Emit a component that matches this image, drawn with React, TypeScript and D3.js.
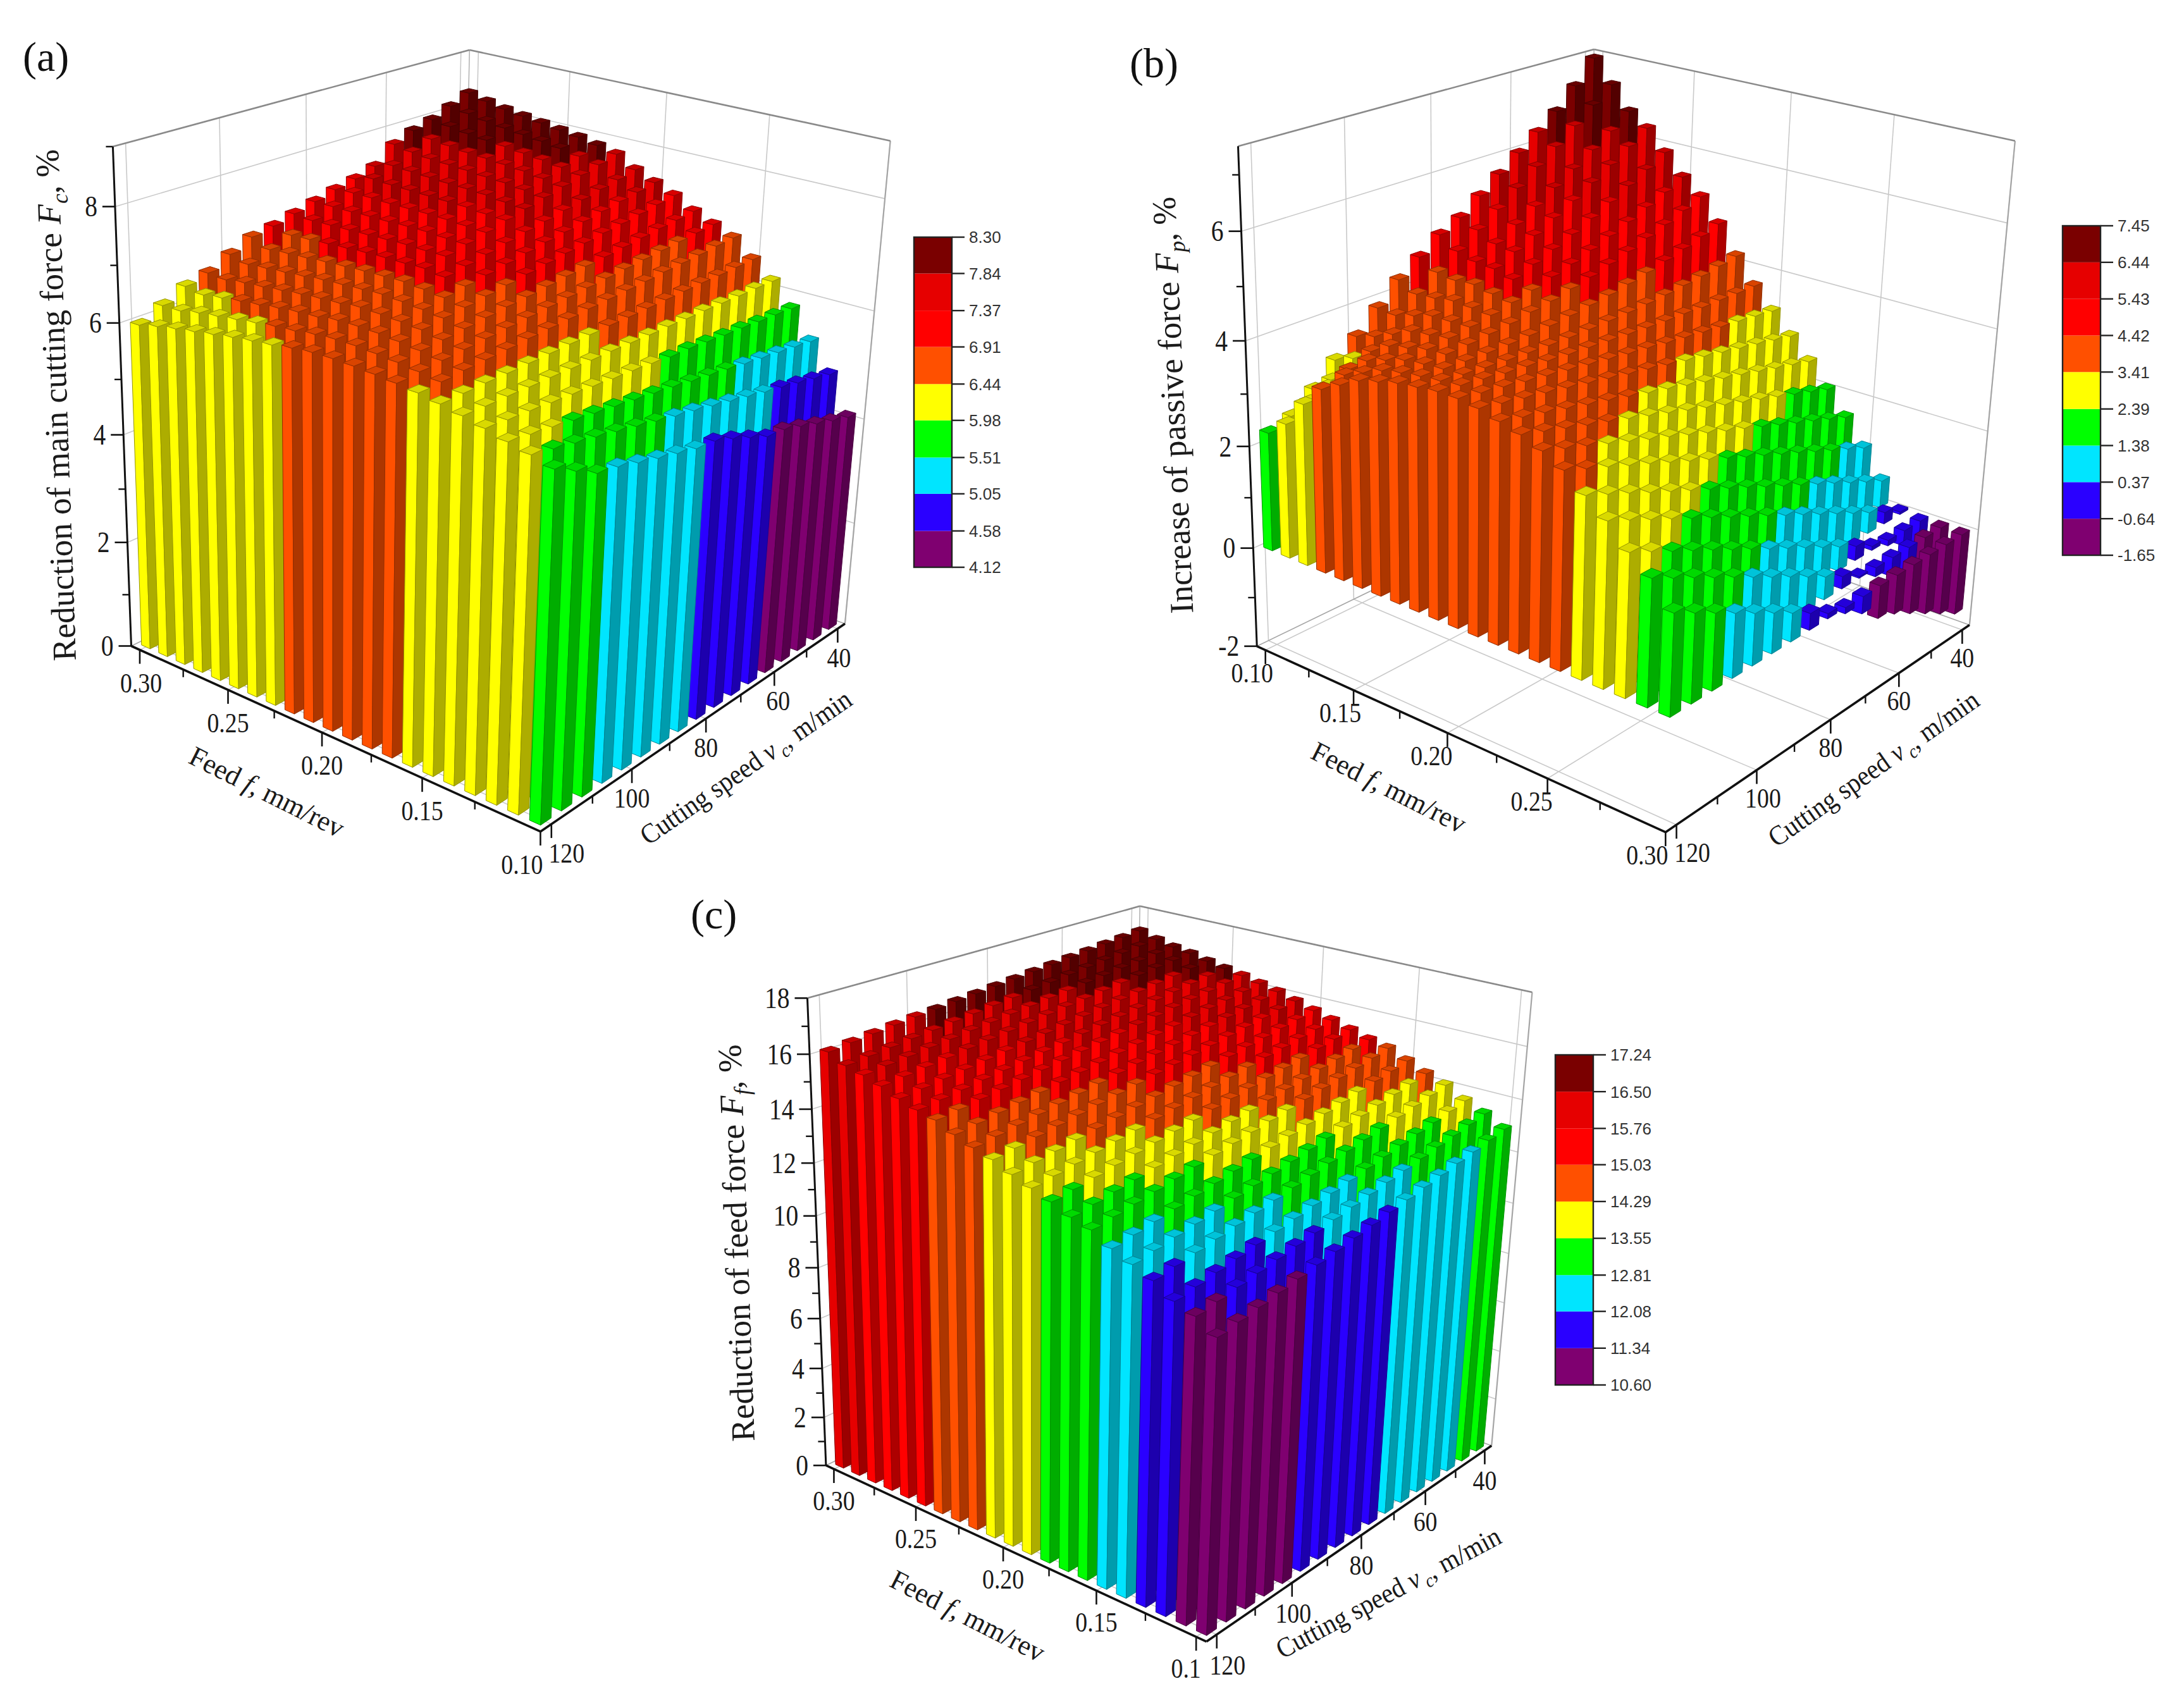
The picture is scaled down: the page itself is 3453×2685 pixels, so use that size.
import React, { useEffect, useRef } from 'react';
import * as d3 from 'd3';

// feed f (mm/rev) and cutting speed v (m/min) of the bars
const feedValues = [0.1, 0.11, 0.12, 0.13, 0.14, 0.15, 0.16, 0.17, 0.18, 0.19, 0.2, 0.21, 0.22, 0.23, 0.24, 0.25, 0.26, 0.27, 0.28, 0.29, 0.3];
const speedValues = [120, 115, 110, 105, 100, 95, 90, 85, 80, 75, 70, 65, 60, 55, 50, 45, 40];

const feedTicks = [0.1, 0.15, 0.2, 0.25, 0.3];
const feedMinor = [0.125, 0.175, 0.225, 0.275];
const speedTicks = [120, 100, 80, 60, 40];
const speedMinor = [110, 90, 70, 50];

const bandColors = ['#7f0070', '#2a00ff', '#00e5ff', '#00ff00', '#ffff00', '#ff5000', '#ff0000', '#e60000', '#7a0000'];

const levelsFc = [4.12, 4.58, 5.05, 5.51, 5.98, 6.44, 6.91, 7.37, 7.84, 8.3];
const levelsFp = [-1.65, -0.64, 0.37, 1.38, 2.39, 3.41, 4.42, 5.43, 6.44, 7.45];
const levelsFf = [10.6, 11.34, 12.08, 12.81, 13.55, 14.29, 15.03, 15.76, 16.5, 17.24];

// one line per feed (0.10 .. 0.30), values per speed (120 .. 40)
const valuesFc = [
  [5.95, 5.74, 5.53, 5.46, 5.35, 5.25, 5.16, 5.07, 5.03, 4.9, 4.75, 4.6, 4.56, 4.45, 4.33, 4.22, 4.12],
  [6.05, 5.97, 5.89, 5.82, 5.74, 5.66, 5.58, 5.5, 5.43, 5.35, 5.27, 5.19, 5.11, 5.04, 4.96, 4.88, 4.8],
  [6.13, 6.08, 6.03, 5.97, 5.92, 5.87, 5.82, 5.77, 5.72, 5.66, 5.61, 5.56, 5.5, 5.45, 5.4, 5.35, 5.3],
  [6.22, 6.19, 6.17, 6.14, 6.12, 6.09, 6.06, 6.04, 6.01, 5.97, 5.96, 5.93, 5.9, 5.88, 5.85, 5.83, 5.8],
  [6.3, 6.29, 6.29, 6.28, 6.28, 6.27, 6.26, 6.26, 6.25, 6.24, 6.24, 6.23, 6.23, 6.22, 6.21, 6.21, 6.2],
  [6.37, 6.38, 6.39, 6.39, 6.4, 6.41, 6.42, 6.43, 6.44, 6.44, 6.45, 6.46, 6.47, 6.48, 6.48, 6.49, 6.5],
  [6.43, 6.45, 6.48, 6.5, 6.52, 6.55, 6.57, 6.59, 6.62, 6.64, 6.66, 6.68, 6.71, 6.73, 6.75, 6.78, 6.8],
  [6.47, 6.5, 6.53, 6.56, 6.59, 6.62, 6.65, 6.68, 6.71, 6.74, 6.77, 6.8, 6.83, 6.86, 6.89, 6.92, 6.95],
  [6.5, 6.54, 6.58, 6.61, 6.65, 6.69, 6.73, 6.76, 6.8, 6.84, 6.88, 6.91, 6.95, 6.99, 7.03, 7.06, 7.1],
  [6.52, 6.57, 6.62, 6.67, 6.72, 6.76, 6.81, 6.86, 6.91, 6.96, 7.01, 7.06, 7.11, 7.15, 7.2, 7.25, 7.3],
  [6.53, 6.59, 6.65, 6.7, 6.76, 6.82, 6.88, 6.93, 6.99, 7.05, 7.11, 7.16, 7.22, 7.28, 7.34, 7.39, 7.45],
  [6.52, 6.59, 6.66, 6.72, 6.79, 6.86, 6.93, 6.99, 7.06, 7.13, 7.2, 7.26, 7.33, 7.4, 7.47, 7.53, 7.6],
  [6.48, 6.56, 6.65, 6.73, 6.81, 6.89, 6.98, 7.06, 7.14, 7.22, 7.31, 7.39, 7.47, 7.55, 7.64, 7.72, 7.8],
  [6.42, 6.51, 6.6, 6.69, 6.79, 6.88, 6.97, 7.06, 7.15, 7.24, 7.33, 7.42, 7.52, 7.61, 7.7, 7.79, 7.88],
  [6.38, 6.48, 6.58, 6.67, 6.77, 6.87, 6.97, 7.07, 7.17, 7.26, 7.36, 7.46, 7.56, 7.66, 7.75, 7.85, 7.95],
  [6.33, 6.43, 6.54, 6.64, 6.75, 6.85, 6.96, 7.06, 7.17, 7.27, 7.37, 7.48, 7.58, 7.69, 7.79, 7.9, 8.0],
  [6.27, 6.38, 6.49, 6.6, 6.71, 6.83, 6.94, 7.05, 7.16, 7.27, 7.38, 7.49, 7.61, 7.72, 7.83, 7.94, 8.05],
  [6.21, 6.33, 6.45, 6.56, 6.68, 6.8, 6.92, 7.04, 7.16, 7.27, 7.39, 7.51, 7.63, 7.74, 7.86, 7.98, 8.1],
  [6.15, 6.28, 6.4, 6.53, 6.65, 6.78, 6.9, 7.03, 7.15, 7.28, 7.4, 7.53, 7.65, 7.78, 7.9, 8.03, 8.15],
  [6.08, 6.21, 6.35, 6.48, 6.62, 6.75, 6.88, 7.02, 7.15, 7.28, 7.42, 7.55, 7.69, 7.82, 7.95, 8.09, 8.22],
  [6.0, 6.2, 6.4, 6.5, 6.7, 6.88, 6.95, 7.05, 7.15, 7.25, 7.33, 7.45, 7.75, 7.9, 8.0, 8.15, 8.3],
];

const valuesFp = [
  [2.3, 2.45, 2.8, 3.2, 3.5, 3.9, 4.3, 4.6, 4.9, 5.1, 5.4, 5.7, 6.0, 6.3, 6.6, 7.0, 7.45],
  [2.6, 2.85, 3.1, 3.35, 3.61, 3.87, 4.13, 4.41, 4.68, 4.96, 5.23, 5.52, 5.82, 6.1, 6.4, 6.7, 7.0],
  [3.1, 3.26, 3.42, 3.6, 3.77, 3.97, 4.16, 4.36, 4.58, 4.79, 5.03, 5.26, 5.5, 5.75, 6.01, 6.27, 6.55],
  [3.5, 3.6, 3.7, 3.82, 3.94, 4.08, 4.22, 4.39, 4.55, 4.74, 4.92, 5.13, 5.34, 5.57, 5.8, 6.05, 6.3],
  [3.7, 3.76, 3.83, 3.9, 3.99, 4.09, 4.2, 4.32, 4.45, 4.6, 4.75, 4.91, 5.09, 5.28, 5.48, 5.68, 5.9],
  [3.9, 3.92, 3.95, 3.99, 4.04, 4.1, 4.17, 4.26, 4.35, 4.46, 4.57, 4.7, 4.84, 4.99, 5.15, 5.32, 5.5],
  [4.0, 4.0, 4.0, 4.02, 4.04, 4.08, 4.12, 4.19, 4.25, 4.34, 4.42, 4.53, 4.64, 4.77, 4.9, 5.05, 5.2],
  [4.1, 4.06, 4.03, 4.01, 4.0, 4.0, 4.01, 4.04, 4.08, 4.13, 4.18, 4.25, 4.33, 4.42, 4.52, 4.63, 4.75],
  [4.15, 4.1, 4.05, 4.01, 3.98, 3.96, 3.94, 3.93, 3.93, 3.94, 3.95, 3.97, 4.0, 4.04, 4.08, 4.14, 4.2],
  [4.2, 4.14, 4.09, 4.03, 3.99, 3.93, 3.89, 3.86, 3.83, 3.8, 3.77, 3.75, 3.74, 3.71, 3.71, 3.7, 3.7],
  [4.2, 4.13, 4.07, 4.0, 3.94, 3.88, 3.82, 3.76, 3.7, 3.65, 3.59, 3.54, 3.49, 3.44, 3.4, 3.35, 3.3],
  [4.15, 4.07, 3.99, 3.92, 3.84, 3.76, 3.68, 3.6, 3.53, 3.45, 3.37, 3.29, 3.21, 3.13, 3.06, 2.98, 2.9],
  [4.05, 3.95, 3.86, 3.76, 3.66, 3.57, 3.47, 3.37, 3.28, 3.18, 3.08, 2.98, 2.89, 2.79, 2.69, 2.6, 2.5],
  [3.95, 3.83, 3.71, 3.59, 3.48, 3.36, 3.24, 3.12, 3.0, 2.88, 2.76, 2.64, 2.53, 2.41, 2.29, 2.17, 2.05],
  [3.8, 3.66, 3.53, 3.39, 3.25, 3.11, 2.98, 2.84, 2.7, 2.56, 2.43, 2.29, 2.15, 2.01, 1.88, 1.74, 1.6],
  [3.6, 3.44, 3.29, 3.13, 2.98, 2.82, 2.66, 2.51, 2.35, 2.19, 2.04, 1.88, 1.73, 1.57, 1.41, 1.26, 1.1],
  [3.3, 3.13, 2.96, 2.78, 2.61, 2.44, 2.27, 2.1, 1.93, 1.75, 1.58, 1.41, 1.24, 1.07, 0.89, 0.72, 0.55],
  [3.0, 2.82, 2.63, 2.45, 2.26, 2.08, 1.89, 1.71, 1.53, 1.34, 1.16, 0.97, 0.79, 0.6, 0.42, 0.23, 0.05],
  [2.6, 2.41, 2.21, 2.02, 1.83, 1.63, 1.44, 1.24, 1.05, 0.86, 0.66, 0.47, 0.28, 0.08, -0.11, -0.31, -0.5],
  [2.3, 2.09, 1.89, 1.68, 1.48, 1.27, 1.06, 0.86, 0.65, 0.44, 0.24, 0.03, -0.18, -0.38, -0.59, -0.79, -1.0],
  [1.85, 1.63, 1.41, 1.19, 0.97, 0.76, 0.54, 0.32, 0.1, -0.12, -0.34, -0.65, -0.78, -0.99, -1.21, -1.43, -1.65],
];

const valuesFf = [
  [10.7, 10.85, 10.99, 11.14, 11.28, 11.43, 11.57, 11.72, 11.86, 12.01, 12.15, 12.3, 12.44, 12.59, 12.73, 12.88, 13.02],
  [11.15, 11.29, 11.43, 11.57, 11.71, 11.85, 11.99, 12.14, 12.28, 12.42, 12.56, 12.7, 12.84, 12.98, 13.12, 13.26, 13.4],
  [11.4, 11.54, 11.69, 11.83, 11.98, 12.12, 12.26, 12.41, 12.55, 12.69, 12.84, 12.98, 13.13, 13.27, 13.41, 13.56, 13.7],
  [11.85, 11.99, 12.13, 12.27, 12.41, 12.55, 12.69, 12.83, 12.98, 13.12, 13.26, 13.4, 13.54, 13.68, 13.82, 13.96, 14.1],
  [12.15, 12.29, 12.43, 12.56, 12.7, 12.84, 12.98, 13.11, 13.25, 13.39, 13.53, 13.66, 13.8, 13.94, 14.08, 14.21, 14.35],
  [12.45, 12.59, 12.73, 12.86, 13.0, 13.14, 13.28, 13.41, 13.55, 13.69, 13.83, 13.96, 14.1, 14.24, 14.38, 14.51, 14.65],
  [12.85, 12.98, 13.11, 13.24, 13.38, 13.51, 13.64, 13.77, 13.9, 14.03, 14.16, 14.29, 14.43, 14.56, 14.69, 14.82, 14.95],
  [13.05, 13.18, 13.31, 13.43, 13.56, 13.69, 13.82, 13.95, 14.08, 14.2, 14.33, 14.46, 14.59, 14.72, 14.84, 14.97, 15.1],
  [13.35, 13.47, 13.59, 13.72, 13.84, 13.96, 14.08, 14.2, 14.33, 14.45, 14.57, 14.69, 14.81, 14.93, 15.06, 15.18, 15.3],
  [13.6, 13.72, 13.84, 13.96, 14.08, 14.19, 14.31, 14.43, 14.55, 14.67, 14.79, 14.91, 15.03, 15.14, 15.26, 15.38, 15.5],
  [13.85, 13.97, 14.08, 14.2, 14.31, 14.43, 14.54, 14.66, 14.78, 14.89, 15.01, 15.12, 15.24, 15.35, 15.47, 15.58, 15.7],
  [14.15, 14.26, 14.37, 14.48, 14.59, 14.7, 14.81, 14.92, 15.03, 15.13, 15.24, 15.35, 15.46, 15.57, 15.68, 15.79, 15.9],
  [14.35, 14.46, 14.57, 14.68, 14.79, 14.9, 15.01, 15.12, 15.23, 15.33, 15.44, 15.55, 15.66, 15.77, 15.88, 15.99, 16.1],
  [14.6, 14.7, 14.81, 14.91, 15.01, 15.12, 15.22, 15.32, 15.43, 15.53, 15.63, 15.73, 15.84, 15.94, 16.04, 16.15, 16.25],
  [14.9, 14.99, 15.09, 15.18, 15.28, 15.37, 15.46, 15.56, 15.65, 15.74, 15.84, 15.93, 16.03, 16.12, 16.21, 16.31, 16.4],
  [15.05, 15.14, 15.23, 15.33, 15.42, 15.51, 15.6, 15.69, 15.79, 15.88, 15.97, 16.06, 16.15, 16.25, 16.34, 16.43, 16.52],
  [15.25, 15.34, 15.43, 15.51, 15.6, 15.69, 15.78, 15.86, 15.95, 16.04, 16.13, 16.21, 16.3, 16.39, 16.48, 16.56, 16.65],
  [15.5, 15.58, 15.66, 15.74, 15.83, 15.91, 15.99, 16.07, 16.15, 16.23, 16.31, 16.39, 16.48, 16.56, 16.64, 16.72, 16.8],
  [15.7, 15.78, 15.85, 15.93, 16.0, 16.08, 16.15, 16.23, 16.3, 16.38, 16.45, 16.53, 16.6, 16.68, 16.75, 16.83, 16.9],
  [15.85, 15.93, 16.0, 16.08, 16.15, 16.23, 16.3, 16.38, 16.45, 16.53, 16.6, 16.68, 16.75, 16.83, 16.9, 16.98, 17.05],
  [16.15, 16.24, 16.32, 16.4, 16.47, 16.52, 16.59, 16.65, 16.72, 16.78, 16.85, 16.91, 16.98, 17.04, 17.11, 17.17, 17.24],
];

const SERIF = '"Liberation Serif", serif';
const SANS = '"Liberation Sans", sans-serif';

type Pt = [number, number];

// least squares fit of a 3x4 camera from box corners (u, w, h) -> pixel
function fitCamera(pts: number[][]) {
  const A: number[][] = [];
  const b: number[] = [];
  pts.forEach(([X, Y, Z, px, py]) => {
    const x = px / 1000;
    const y = py / 1000;
    A.push([X, Y, Z, 1, 0, 0, 0, 0, -x * X, -x * Y, -x * Z]);
    b.push(x);
    A.push([0, 0, 0, 0, X, Y, Z, 1, -y * X, -y * Y, -y * Z]);
    b.push(y);
  });
  const n = 11;
  const M = d3.range(n).map((r) =>
    d3.range(n + 1).map((c) =>
      c < n ? d3.sum(A, (row) => row[r] * row[c]) : d3.sum(A, (row, k) => row[r] * b[k])
    )
  );
  for (let c = 0; c < n; c++) {
    let piv = c;
    for (let r = c + 1; r < n; r++) if (Math.abs(M[r][c]) > Math.abs(M[piv][c])) piv = r;
    [M[c], M[piv]] = [M[piv], M[c]];
    for (let r = 0; r < n; r++) {
      if (r === c) continue;
      const k = M[r][c] / M[c][c];
      for (let s = c; s <= n; s++) M[r][s] -= k * M[c][s];
    }
  }
  const p = M.map((row, i) => row[n] / row[i]);
  return (u: number, w: number, h: number): Pt => {
    const d = p[8] * u + p[9] * w + p[10] * h + 1;
    return [
      (1000 * (p[0] * u + p[1] * w + p[2] * h + p[3])) / d,
      (1000 * (p[4] * u + p[5] * w + p[6] * h + p[7])) / d,
    ];
  };
}

const shade = (c: string, k: number) => {
  const r = d3.rgb(c);
  return d3.rgb(r.r * k, r.g * k, r.b * k).formatHex();
};

const panels = [
  {
    tag: '(a)', tagPos: [36, 112],
    values: valuesFc, levels: levelsFc,
    zDomain: [0, 9], zTicks: [0, 2, 4, 6, 8], zMinor: [1, 3, 5, 7, 9],
    feedDomain: [0.095, 0.305], feedPinned: 0.1, feedText: ['0.10', '0.15', '0.20', '0.25', '0.30'],
    corners: { front: [854, 1315], left: [208, 1022], right: [1336, 986], topLeft: [179, 232], topRight: [1408, 223], topBack: [742, 79], zCheck: [6, 188, 510] },
    feedLabel: { dx: [-29, 0, 0, 0, 2], dy: 52 },
    speedLabel: { dx: [24, 0, 0, 6, 2], dy: 46 },
    title: { text: 'Reduction of main cutting force ', sub: 'c', pos: [106, 640], rot: -92 },
    feedTitle: [422, 1252, 26.6], speedTitle: [1179, 1213, -34.6],
    legend: { x: 1445, y0: 375, y1: 897, w: 60 },
  },
  {
    tag: '(b)', tagPos: [1786, 122],
    values: valuesFp, levels: levelsFp,
    zDomain: [-2, 7.5], zTicks: [-2, 0, 2, 4, 6], zMinor: [-1, 1, 3, 5, 7],
    feedDomain: [0.305, 0.095], feedPinned: 0.3, feedText: ['0.10', '0.15', '0.20', '0.25', '0.30'],
    corners: { front: [2633, 1316], left: [1987, 1022], right: [3114, 988], topLeft: [1957, 231], topRight: [3186, 223], topBack: [2520, 78], zCheck: [4, 1970, 539] },
    feedLabel: { dx: [-21, -21, -25, -25, -29], dy: 36 },
    speedLabel: { dx: [25, 10, 0, 0, 0], dy: 44 },
    title: { text: 'Increase of passive force  ', sub: 'p', pos: [1872, 640], rot: -92.5 },
    feedTitle: [2196, 1245, 26.8], speedTitle: [2962, 1215, -35],
    legend: { x: 3261, y0: 357, y1: 878, w: 60 },
  },
  {
    tag: '(c)', tagPos: [1092, 1468],
    values: valuesFf, levels: levelsFf,
    zDomain: [0, 18], zTicks: [0, 2, 4, 6, 8, 10, 12, 14, 16, 18], zMinor: [1, 3, 5, 7, 9, 11, 13, 15, 17],
    feedDomain: [0.095, 0.305], feedPinned: null, feedText: ['0.1', '0.15', '0.20', '0.25', '0.30'],
    corners: { front: [1906, 2596], left: [1304, 2318], right: [2359, 2285], topLeft: [1274, 1577], topRight: [2423, 1570], topBack: [1801, 1433], zCheck: [10, 1296, 1923] },
    feedLabel: { dx: [-16, 0, 0, 0, 0], dy: 50 },
    speedLabel: { dx: [17, 2, 0, 0, 0], dy: 48 },
    title: { text: 'Reduction of feed force  ', sub: 'f', pos: [1182, 1965], rot: -92 },
    feedTitle: [1530, 2555, 27], speedTitle: [2195, 2518, -27.9],
    legend: { x: 2459, y0: 1668, y1: 2190, w: 60 },
  },
];

function drawPanel(svg: any, cfg: any) {
  const g = svg.append('g');
  const c = cfg.corners;
  const zScale = d3.scaleLinear().domain(cfg.zDomain).range([0, 1]);
  const uScale = d3.scaleLinear().domain(cfg.feedDomain).range([0, 1]);
  const wScale = d3.scaleLinear().domain([122.6, 37.6]).range([0, 1]);
  const colorScale = d3.scaleThreshold<number, string>().domain(cfg.levels.slice(1, -1)).range(bandColors);
  // the end tick next to the front corner sits on the corner itself
  const tickU = (f: number) => (f === cfg.feedPinned ? 0 : uScale(f));

  const project = fitCamera([
    [0, 0, 0, ...c.front],
    [1, 0, 0, ...c.left],
    [0, 1, 0, ...c.right],
    [1, 0, 1, ...c.topLeft],
    [0, 1, 1, ...c.topRight],
    [1, 1, 1, ...c.topBack],
    [1, 0, zScale(c.zCheck[0]), c.zCheck[1], c.zCheck[2]],
  ]);

  const line = d3.line();
  const seg = (a: Pt, b: Pt, stroke: string, width: number) =>
    g.append('path').attr('d', line([a, b])).attr('stroke', stroke).attr('stroke-width', width).attr('fill', 'none');

  // walls and floor grid
  const grid = '#c9c9c9';
  cfg.zTicks.forEach((z: number) => {
    const h = zScale(z);
    if (h === 0) return;
    seg(project(1, 0, h), project(1, 1, h), grid, 1.6);
    seg(project(1, 1, h), project(0, 1, h), grid, 1.6);
  });
  speedTicks.forEach((v) => {
    const w = wScale(v);
    seg(project(1, w, 0), project(1, w, 1), grid, 1.6);
    seg(project(0, w, 0), project(1, w, 0), grid, 1.6);
  });
  feedTicks.forEach((f) => {
    const u = tickU(f);
    seg(project(u, 1, 0), project(u, 1, 1), grid, 1.6);
    seg(project(u, 0, 0), project(u, 1, 0), grid, 1.6);
  });
  const frame = '#8a8a8a';
  seg(project(1, 1, 0), project(1, 1, 1), '#b5b5b5', 1.6);
  seg(project(1, 0, 0), project(1, 1, 0), '#a5a5a5', 1.6);
  seg(project(1, 1, 0), project(0, 1, 0), '#a5a5a5', 1.6);
  seg(project(0, 1, 0), project(0, 1, 1), '#a5a5a5', 2.2);
  seg(project(1, 0, 1), project(1, 1, 1), frame, 2.6);
  seg(project(1, 1, 1), project(0, 1, 1), frame, 2.6);

  // bars, back corner first
  const bars = feedValues.flatMap((f, i) =>
    speedValues.map((v, j) => ({ u: uScale(f), w: wScale(v), z: cfg.values[i][j] }))
  );
  bars.sort((a, b) => b.u + b.w - (a.u + a.w));
  const halfU = Math.abs(uScale(0.2025) - uScale(0.2));
  const halfW = Math.abs(wScale(1.25) - wScale(0));
  const barLayer = g.append('g').attr('stroke-width', 1).attr('stroke-linejoin', 'round');
  bars.forEach((b) => {
    const col = colorScale(b.z);
    const stroke = shade(col, 0.58);
    const h0 = zScale(Math.min(0, b.z));
    const h1 = zScale(Math.max(0, b.z));
    const poly = (pts: Pt[], fill: string) =>
      barLayer.append('path').attr('d', line(pts) + 'Z').attr('fill', fill).attr('stroke', stroke);
    const A = [b.u - halfU, b.w - halfW];
    const L = [b.u + halfU, b.w - halfW];
    const R = [b.u - halfU, b.w + halfW];
    const B = [b.u + halfU, b.w + halfW];
    poly([project(A[0], A[1], h0), project(L[0], L[1], h0), project(L[0], L[1], h1), project(A[0], A[1], h1)], col);
    poly([project(A[0], A[1], h0), project(R[0], R[1], h0), project(R[0], R[1], h1), project(A[0], A[1], h1)], shade(col, 0.68));
    poly([project(A[0], A[1], h1), project(L[0], L[1], h1), project(B[0], B[1], h1), project(R[0], R[1], h1)], shade(col, 0.85));
  });

  // black axes
  const ink = '#111';
  seg(project(1, 0, 0), project(1, 0, 1), ink, 3);
  seg(project(1, 0, 0), project(0, 0, 0), ink, 3.6);
  seg(project(0, 0, 0), project(0, 1, 0), ink, 3.6);

  const label = (x: number, y: number, text: string, size: number, anchor = 'middle', sx = 0.86) =>
    g.append('text')
      .attr('transform', `translate(${x},${y}) scale(${sx},1)`)
      .attr('text-anchor', anchor)
      .attr('font-family', SERIF)
      .attr('font-size', size)
      .attr('dy', '0.34em')
      .attr('fill', '#1a1a1a')
      .text(text);

  cfg.zTicks.forEach((z: number) => {
    const [x, y] = project(1, 0, zScale(z));
    seg([x, y], [x - 20, y], ink, 2.6);
    label(x - 28, y, String(z), 46, 'end');
  });
  cfg.zMinor.forEach((z: number) => {
    if (z > cfg.zDomain[1]) return;
    const [x, y] = project(1, 0, zScale(z));
    seg([x, y], [x - 11, y], ink, 2.4);
  });

  feedTicks.forEach((f, k) => {
    const [x, y] = project(tickU(f), 0, 0);
    seg([x, y], [x, y + 22], ink, 2.6);
    label(x + cfg.feedLabel.dx[k], y + cfg.feedLabel.dy, cfg.feedText[k], 44);
  });
  feedMinor.forEach((f) => {
    const [x, y] = project(uScale(f), 0, 0);
    seg([x, y], [x, y + 12], ink, 2.4);
  });
  speedTicks.forEach((v, k) => {
    const [x, y] = project(0, wScale(v), 0);
    seg([x, y], [x, y + 22], ink, 2.6);
    label(x + cfg.speedLabel.dx[k], y + cfg.speedLabel.dy, String(v), 44);
  });
  speedMinor.forEach((v) => {
    const [x, y] = project(0, wScale(v), 0);
    seg([x, y], [x, y + 12], ink, 2.4);
  });

  // titles
  const title = g.append('text')
    .attr('transform', `translate(${cfg.title.pos[0]},${cfg.title.pos[1]}) rotate(${cfg.title.rot})`)
    .attr('text-anchor', 'middle')
    .attr('font-family', SERIF)
    .attr('font-size', 53)
    .attr('fill', '#1a1a1a');
  title.append('tspan').text(cfg.title.text);
  title.append('tspan').attr('font-style', 'italic').text('F');
  title.append('tspan').attr('font-style', 'italic').attr('font-size', 36).attr('dy', 12).text(cfg.title.sub);
  title.append('tspan').attr('dy', -12).text(', %');

  const feedTitle = g.append('text')
    .attr('transform', `translate(${cfg.feedTitle[0]},${cfg.feedTitle[1]}) rotate(${cfg.feedTitle[2]})`)
    .attr('text-anchor', 'middle').attr('dy', '0.34em')
    .attr('font-family', SERIF).attr('font-size', 44).attr('fill', '#1a1a1a');
  feedTitle.append('tspan').text('Feed ');
  feedTitle.append('tspan').attr('font-style', 'italic').text('f');
  feedTitle.append('tspan').text(', mm/rev');

  const speedTitle = g.append('text')
    .attr('transform', `translate(${cfg.speedTitle[0]},${cfg.speedTitle[1]}) rotate(${cfg.speedTitle[2]}) scale(0.92,1)`)
    .attr('text-anchor', 'middle').attr('dy', '0.34em')
    .attr('font-family', SERIF).attr('font-size', 44).attr('fill', '#1a1a1a');
  speedTitle.append('tspan').text('Cutting speed ');
  speedTitle.append('tspan').attr('font-style', 'italic').text('v');
  speedTitle.append('tspan').attr('font-style', 'italic').attr('font-size', 30).attr('dx', 6).attr('dy', 9).text('c');
  speedTitle.append('tspan').attr('dy', -9).text(', m/min');

  g.append('text').attr('x', cfg.tagPos[0]).attr('y', cfg.tagPos[1])
    .attr('font-family', SERIF).attr('font-size', 66).attr('fill', '#111').text(cfg.tag);

  // colour legend
  const lg = cfg.legend;
  const yLeg = d3.scaleLinear().domain([cfg.levels[0], cfg.levels[9]]).range([lg.y1, lg.y0]);
  bandColors.forEach((col, k) => {
    g.append('rect').attr('x', lg.x).attr('y', yLeg(cfg.levels[k + 1]))
      .attr('width', lg.w).attr('height', yLeg(cfg.levels[k]) - yLeg(cfg.levels[k + 1])).attr('fill', col);
  });
  g.append('rect').attr('x', lg.x).attr('y', lg.y0).attr('width', lg.w).attr('height', lg.y1 - lg.y0)
    .attr('fill', 'none').attr('stroke', '#222').attr('stroke-width', 2.4);
  cfg.levels.forEach((lv: number) => {
    const y = yLeg(lv);
    seg([lg.x + lg.w, y], [lg.x + lg.w + 20, y], '#222', 2.4);
    g.append('text').attr('x', lg.x + lg.w + 27).attr('y', y).attr('dy', '0.36em')
      .attr('font-family', SANS).attr('font-size', 26).attr('fill', '#333').text(lv.toFixed(2));
  });
}

export default function App() {
  const ref = useRef<SVGSVGElement>(null);
  useEffect(() => {
    const svg = d3.select(ref.current);
    svg.selectAll('*').remove();
    panels.forEach((cfg) => drawPanel(svg, cfg));
  }, []);
  return (
    <svg
      ref={ref}
      width={3453}
      height={2685}
      viewBox="0 0 3453 2685"
      style={{ position: 'absolute', left: 0, top: 0, background: '#fff' }}
    />
  );
}
